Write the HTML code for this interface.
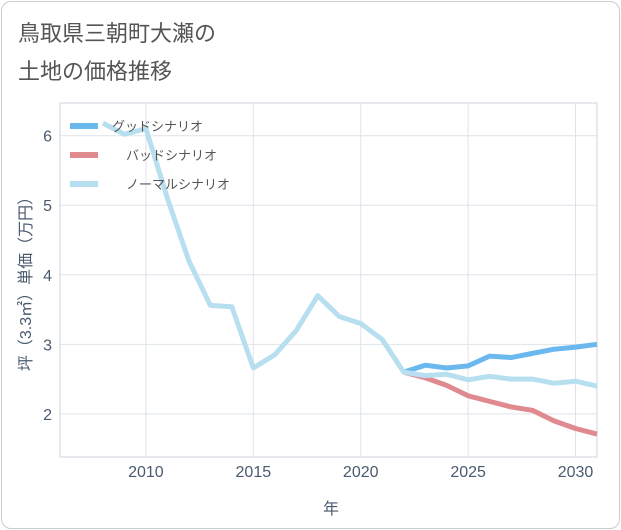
<!DOCTYPE html>
<html><head><meta charset="utf-8"><style>
body{margin:0;background:#fff;font-family:"Liberation Sans","Noto Sans CJK JP",sans-serif}
.card{position:absolute;left:1px;top:1px;width:617px;height:526px;border:1px solid #ccc;border-radius:10px;background:#fff}
.t{position:absolute;left:18px;font-size:22px;color:#555}
</style></head><body>
<div class="card"></div>
<div class="t" style="top:16px">鳥取県三朝町大瀬の</div>
<div class="t" style="top:54px">土地の価格推移</div>
<svg id="c" width="621" height="530" style="position:absolute;left:0;top:0"></svg>
<script>
const years=[2008,2009,2010,2011,2012,2013,2014,2015,2016,2017,2018,2019,2020,2021,2022,2023,2024,2025,2026,2027,2028,2029,2030,2031];
const normal=[6.18,6.02,6.1,5.1,4.2,3.56,3.54,2.66,2.85,3.2,3.7,3.4,3.3,3.07,2.6,2.55,2.57,2.49,2.54,2.5,2.5,2.44,2.47,2.4];
const futYears=[2022,2023,2024,2025,2026,2027,2028,2029,2030,2031];
const good=[2.6,2.7,2.66,2.69,2.83,2.81,2.87,2.93,2.96,3.0];
const bad=[2.6,2.52,2.41,2.26,2.18,2.1,2.05,1.9,1.79,1.71];
const xTicks=[2010,2015,2020,2025,2030];
const yTicks=[2,3,4,5,6];
const L=60,R=597,T=103,B=457,x0=2006,x1=2031,y0=1.38,y1=6.47;
const X=v=>L+(v-x0)/(x1-x0)*(R-L), Y=v=>B-(v-y0)/(y1-y0)*(B-T);
const s=document.getElementById('c'),NS='http://www.w3.org/2000/svg';
function el(t,a,p){const e=document.createElementNS(NS,t);for(const k in a)e.setAttribute(k,a[k]);(p||s).appendChild(e);return e;}
let bg=el('rect',{x:L,y:T,width:R-L,height:B-T,fill:'#fff',stroke:'#ccd6e0'});

for(let v=2006;v<=2031;v+=5){}
xTicks.forEach(v=>{let g=el('line',{x1:X(v),x2:X(v),y1:T,y2:B,stroke:'#dde4ea'});

let t=el('text',{x:X(v),y:477,'text-anchor':'middle','font-size':16,fill:'#4a5a6e'});t.textContent=v;
});
yTicks.forEach(v=>{let g=el('line',{x1:L,x2:R,y1:Y(v),y2:Y(v),stroke:'#dde4ea'});

let t=el('text',{x:52,y:Y(v)+6,'text-anchor':'end','font-size':16,fill:'#4a5a6e'});t.textContent=v;
});
function line(xs,ys,c,n){let p=el('polyline',{points:xs.map((v,i)=>X(v)+','+Y(ys[i])).join(' '),fill:'none',stroke:c,'stroke-width':5,'stroke-linejoin':'round'});
}
line(futYears,bad,'#e08a90','bad-scenario-line');
line(futYears,good,'#6bb8ee','good-scenario-line');
line(years,normal,'#b8dff0','normal-scenario-line');
const leg=[['グッドシナリオ','#6bb8ee'],['バッドシナリオ','#e08a90'],['ノーマルシナリオ','#b8dff0']];
leg.forEach((d,i)=>{const y=126+i*29;let l=el('line',{x1:70,x2:98,y1:y,y2:y,stroke:d[1],'stroke-width':6});

let t=el('text',{x:[112,126,126][i],y:y+5,'font-size':13,fill:'#555'});t.textContent=d[0];
});
let xt=el('text',{x:331,y:514,'text-anchor':'middle','font-size':16,fill:'#4a5a6e'});xt.textContent='年';

let yt=el('text',{x:0,y:0,transform:'translate(31,280) rotate(-90)','text-anchor':'middle','font-size':16,fill:'#4a5a6e'});yt.textContent='坪（3.3㎡）単価（万円）';

</script>
</body></html>
